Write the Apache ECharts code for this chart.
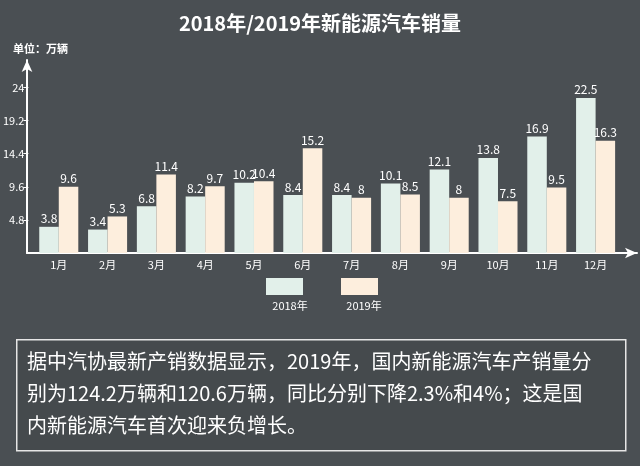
<!DOCTYPE html>
<html><head><meta charset="utf-8">
<script src="https://cdn.jsdelivr.net/npm/echarts@6/dist/echarts.min.js"></script>
<style>html,body{margin:0;padding:0;background:#4a4f53;}#c{width:640px;height:466px;}</style>
</head><body><div id="c"></div>
<script>
var months = ['1月','2月','3月','4月','5月','6月','7月','8月','9月','10月','11月','12月'];
var sales2018 = [3.8,3.4,6.8,8.2,10.2,8.4,8.4,10.1,12.1,13.8,16.9,22.5];
var sales2019 = [9.6,5.3,11.4,9.7,10.4,15.2,8,8.5,8,7.5,9.5,16.3];
var seriesNames = ['2018年','2019年'];
var yTicks = [4.8,9.6,14.4,19.2,24];
var titleText = '2018年/2019年新能源汽车销量';
var unitText = '单位：万辆';
var noteText = '据中汽协最新产销数据显示，2019年，国内新能源汽车产销量分\n别为124.2万辆和120.6万辆，同比分别下降2.3%和4%；这是国\n内新能源汽车首次迎来负增长。';

var FONT = '"Noto Sans CJK SC","Noto Sans",sans-serif';
var chart = echarts.init(document.getElementById('c'), null, {renderer:'canvas'});
var labelCfg = {show:true, position:'top', color:'#ffffff', fontSize:12, fontFamily:FONT, distance:2};
chart.setOption({
  backgroundColor:'#4a4f53',
  animation:false,
  textStyle:{fontFamily:FONT},
  title:[
    {text:titleText, left:'center', top:8, textStyle:{color:'#ffffff', fontSize:20, fontWeight:'bold', fontFamily:FONT}},
    {text:unitText, left:8, top:38, textStyle:{color:'#ffffff', fontSize:11, fontWeight:'bold', fontFamily:FONT}},
    {text:seriesNames[0], left:285, top:295, textAlign:'center', textStyle:{color:'#ffffff', fontSize:11, fontWeight:'normal', fontFamily:FONT}},
    {text:seriesNames[1], left:359, top:295, textAlign:'center', textStyle:{color:'#ffffff', fontSize:11, fontWeight:'normal', fontFamily:FONT}}
  ],
  legend:[
    {data:[seriesNames[0]], left:266, top:278, padding:0, itemWidth:37, itemHeight:17, icon:'rect', formatter:function(){return '';}, textStyle:{fontSize:1}, selectedMode:false},
    {data:[seriesNames[1]], left:341, top:278, padding:0, itemWidth:37, itemHeight:17, icon:'rect', formatter:function(){return '';}, textStyle:{fontSize:1}, selectedMode:false}
  ],
  grid:[
    {left:33, right:20, top:60, bottom:213},
    {left:27, right:3, top:60, bottom:213}
  ],
  xAxis:[
    {type:'category', gridIndex:0, data:months, axisLine:{show:false}, axisTick:{show:false},
     axisLabel:{color:'#ffffff', fontSize:11, margin:6, fontFamily:FONT}},
    {type:'value', gridIndex:1, min:0, max:1, axisLine:{show:true, lineStyle:{color:'#ffffff', width:2}, symbol:['none','arrow'], symbolSize:[8,12]},
     axisTick:{show:false}, axisLabel:{show:false}, splitLine:{show:false}}
  ],
  yAxis:[
    {type:'value', gridIndex:0, min:0, max:28, offset:6,
     axisLine:{show:false},
     axisTick:{show:true, length:5, customValues:yTicks, lineStyle:{color:'#ffffff'}},
     axisLabel:{color:'#ffffff', fontSize:11, margin:4, customValues:yTicks, fontFamily:FONT},
     splitLine:{show:false}},
    {type:'value', gridIndex:1, min:0, max:1, axisLine:{show:true, lineStyle:{color:'#ffffff', width:2}, symbol:['none','arrow'], symbolSize:[8,12]},
     axisTick:{show:false}, axisLabel:{show:false}, splitLine:{show:false}}
  ],
  series:[
    {name:seriesNames[0], type:'bar', xAxisIndex:0, yAxisIndex:0, data:sales2018, barGap:'0%', barCategoryGap:'20%',
     itemStyle:{color:'#e2f0ea'}, label:labelCfg},
    {name:seriesNames[1], type:'bar', xAxisIndex:0, yAxisIndex:0, data:sales2019, barGap:'0%', barCategoryGap:'20%',
     itemStyle:{color:'#fdeedd'}, label:labelCfg}
  ],
  graphic:[
    {type:'rect', left:16, top:339, shape:{width:609, height:111}, style:{fill:'rgba(40,44,48,0.15)', stroke:'#e6e6e6', lineWidth:1.5}, z:1},
    {type:'text', left:27, top:345, style:{text:noteText, fill:'#ffffff', fontSize:20, lineHeight:32, fontFamily:FONT}, z:2}
  ]
});
</script></body></html>
